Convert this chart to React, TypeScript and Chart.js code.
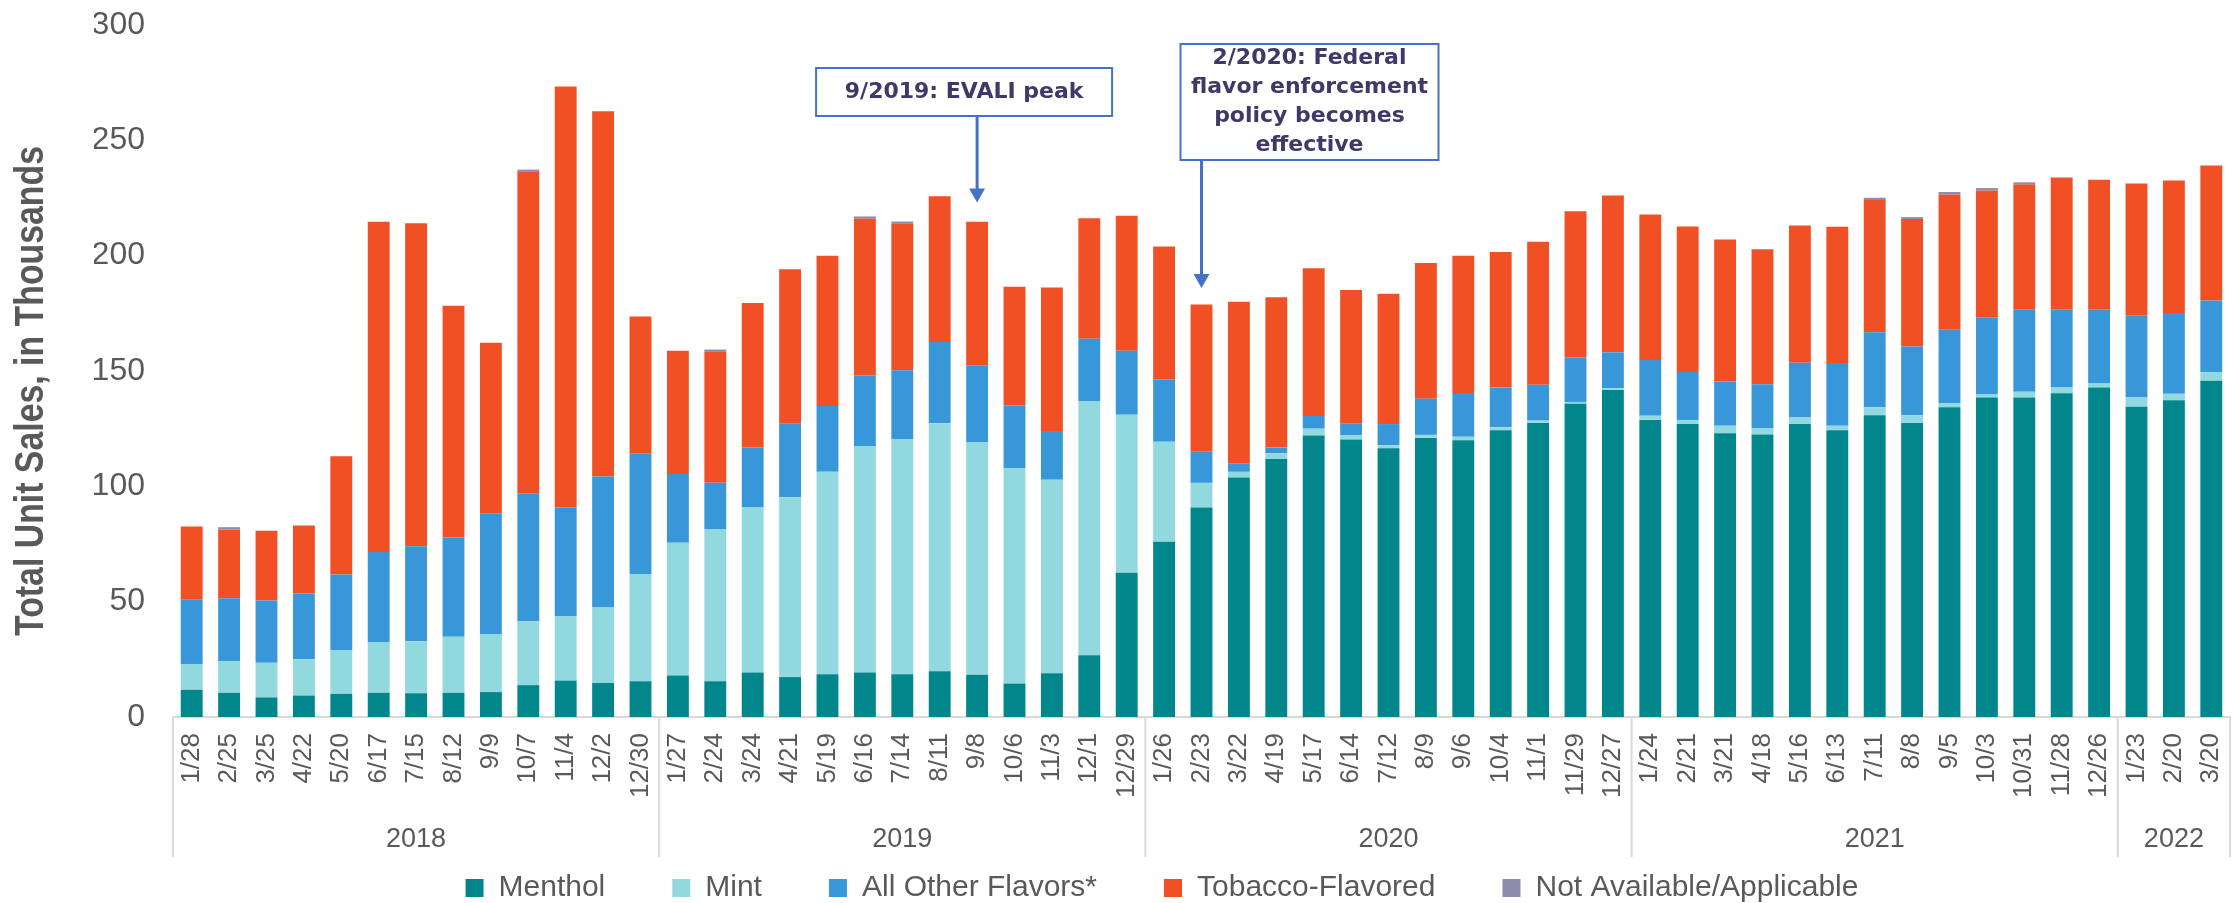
import React, { useEffect, useRef } from 'react';
import { Chart, registerables } from 'chart.js';

Chart.register(...registerables);

const dateLabels = [
  '1/28', '2/25', '3/25', '4/22', '5/20', '6/17', '7/15', '8/12', '9/9', '10/7', '11/4', '12/2', '12/30',
  '1/27', '2/24', '3/24', '4/21', '5/19', '6/16', '7/14', '8/11', '9/8', '10/6', '11/3', '12/1', '12/29',
  '1/26', '2/23', '3/22', '4/19', '5/17', '6/14', '7/12', '8/9', '9/6', '10/4', '11/1', '11/29', '12/27',
  '1/24', '2/21', '3/21', '4/18', '5/16', '6/13', '7/11', '8/8', '9/5', '10/3', '10/31', '11/28', '12/26',
  '1/23', '2/20', '3/20',
];
const yearLabels = ['2018', '2019', '2020', '2021', '2022'];
const yearCounts = [13, 13, 13, 13, 3];

const menthol = [
  11.8, 10.5, 8.5, 9.3, 10, 10.5, 10.3, 10.5, 10.8, 13.8, 15.8, 14.8, 15.5,
  18, 15.5, 19.3, 17.3, 18.5, 19.3, 18.5, 19.8, 18.3, 14.5, 19, 26.8, 62.5,
  76, 90.8, 103.8, 111.8, 122, 120.3, 116.5, 121, 120, 124.3, 127.5, 135.8, 141.8,
  128.8, 127, 123, 122.5, 127, 124.3, 130.8, 127.5, 134.3, 138.5, 138.5, 140.3, 142.8,
  134.5, 137.3, 145.8,
];
const mint = [
  11.2, 13.8, 15, 15.7, 19, 22, 22.5, 24.3, 25, 27.7, 28, 32.7, 46.3,
  57.5, 65.8, 71.5, 78, 87.8, 98.2, 102, 107.5, 100.7, 93.5, 83.8, 110.2, 68.5,
  43.3, 10.7, 2.5, 2.5, 3, 1.8, 1.3, 1.3, 1.5, 1.3, 1, 0.8, 0.8,
  1.8, 1.8, 3.3, 2.8, 2.8, 2, 3.5, 3.3, 1.8, 1.3, 2.5, 2.5, 1.8,
  4, 2.8, 3.8,
];
const otherFlavors = [
  27.8, 27.2, 27, 28.5, 32.8, 39, 41.2, 43, 52.5, 55.3, 47, 56.8, 52.5,
  29.8, 20.2, 26, 31.8, 28.5, 30.5, 29.8, 35.3, 33.5, 27, 21.2, 27, 27.8,
  27, 13.5, 3.7, 2.5, 5.5, 5, 9.2, 15.7, 19, 17.2, 15.5, 19.2, 15.5,
  24.2, 20.8, 19.2, 19, 23.8, 27.2, 32.5, 29.8, 31.8, 33.5, 35.5, 33.8, 32,
  35.5, 35, 31,
];
const tobacco = [
  31.8, 29.8, 30.2, 29.5, 51.2, 143.2, 140, 100.5, 74, 139.5, 182.5, 158.3, 59.3,
  53.5, 56.8, 62.7, 67, 65.2, 68, 63.5, 63.2, 62.2, 51.5, 62.2, 52.2, 58.5,
  57.7, 63.8, 70, 65.2, 64, 58, 56.5, 58.8, 59.5, 58.8, 62, 63.5, 68,
  63, 63, 61.5, 58.5, 59.5, 59, 57.3, 55.3, 58.5, 55, 54.3, 57.3, 56.3,
  57.3, 57.5, 58.5,
];
const notAvailable = [
  0, 1, 0, 0, 0, 0, 0, 0, 0, 1, 0, 0, 0,
  0, 1, 0, 0, 0, 1, 1, 0, 0, 0, 0, 0, 0,
  0, 0, 0, 0, 0, 0, 0, 0, 0, 0, 0, 0, 0,
  0, 0, 0, 0, 0, 0, 1, 0.8, 1.2, 1, 1, 0, 0,
  0, 0, 0,
];

const seriesNames = ['Menthol', 'Mint', 'All Other Flavors*', 'Tobacco-Flavored', 'Not Available/Applicable'];
const yTickValues = [0, 50, 100, 150, 200, 250, 300];
const yTitle = 'Total Unit Sales, in Thousands';

const annotationTexts = [
  ['9/2019: EVALI peak'],
  ['2/2020: Federal', 'flavor enforcement', 'policy becomes', 'effective'],
];
const annotationIndex = [21, 27];
const annotationTipValue = [223, 186];

const GRAY = '#595959';
const SEP = '#d9d9d9';
const BLUE = '#4472C4';
const NARROW = '"Liberation Sans Narrow", "Liberation Sans", Arial';

// box geometry in pixels (styling only): offset from arrow x, top y, size
const annoBoxes = [
  { dx: -161, w: 296, top: 68, h: 48 },
  { dx: -21, w: 258, top: 44, h: 116 },
];

const extrasPlugin = {
  id: 'extras',
  afterDraw(chart: any) {
    const ctx = chart.ctx;
    const xs = chart.scales.x;
    const ys = chart.scales.y;
    const area = chart.chartArea;
    ctx.save();

    // y title
    ctx.save();
    ctx.translate(32, 391);
    ctx.rotate(-Math.PI / 2);
    ctx.fillStyle = GRAY;
    ctx.font = 'bold 40px ' + NARROW;
    ctx.textAlign = 'center';
    ctx.textBaseline = 'middle';
    ctx.fillText(yTitle, 0, 0, 490);
    ctx.restore();

    // year groups
    const half = (xs.getPixelForValue(1) - xs.getPixelForValue(0)) / 2;
    const edges = [xs.getPixelForValue(0) - half];
    let count = 0;
    yearCounts.forEach((c) => {
      count += c;
      edges.push(xs.getPixelForValue(count - 1) + half);
    });
    const top = area.bottom;
    const bottom = top + 140;
    ctx.strokeStyle = SEP;
    ctx.lineWidth = 2;
    edges.forEach((e) => {
      ctx.beginPath();
      ctx.moveTo(e, top);
      ctx.lineTo(e, bottom);
      ctx.stroke();
    });
    ctx.fillStyle = GRAY;
    ctx.font = '27px "Liberation Sans", Arial';
    ctx.textAlign = 'center';
    ctx.textBaseline = 'middle';
    yearLabels.forEach((y, i) => {
      ctx.fillText(y, (edges[i] + edges[i + 1]) / 2, top + 123);
    });

    // annotations
    annotationTexts.forEach((lines, i) => {
      const px = xs.getPixelForValue(annotationIndex[i]);
      const tipY = ys.getPixelForValue(annotationTipValue[i]);
      const b = annoBoxes[i];
      const bx = px + b.dx;
      const by = b.top;
      ctx.fillStyle = '#ffffff';
      ctx.fillRect(bx, by, b.w, b.h);
      ctx.strokeStyle = BLUE;
      ctx.lineWidth = 2;
      ctx.strokeRect(bx, by, b.w, b.h);
      // arrow
      ctx.lineWidth = 3;
      ctx.beginPath();
      ctx.moveTo(px, by + b.h);
      ctx.lineTo(px, tipY - 12);
      ctx.stroke();
      ctx.fillStyle = BLUE;
      ctx.beginPath();
      ctx.moveTo(px - 8, tipY - 14);
      ctx.lineTo(px + 8, tipY - 14);
      ctx.lineTo(px, tipY);
      ctx.closePath();
      ctx.fill();
      // text
      ctx.fillStyle = '#3F3868';
      ctx.font = 'bold 22px "DejaVu Sans"';
      ctx.textAlign = 'center';
      ctx.textBaseline = 'middle';
      const lh = 29;
      const cy = by + b.h / 2;
      const startY = cy - ((lines.length - 1) * lh) / 2;
      lines.forEach((t, j) => ctx.fillText(t, bx + b.w / 2, startY + j * lh));
    });
    ctx.restore();
  },
};

export default function App() {
  const ref = useRef<HTMLCanvasElement | null>(null);
  useEffect(() => {
    document.body.style.margin = '0';
    document.body.style.overflow = 'hidden';
    const colors = ['#01868C', '#91D9DF', '#3797D9', '#F05024', '#8F8BAB'];
    const values = [menthol, mint, otherFlavors, tobacco, notAvailable];
    const chart = new Chart(ref.current as HTMLCanvasElement, {
      type: 'bar',
      data: {
        labels: dateLabels,
        datasets: values.map((v, i) => ({
          label: seriesNames[i],
          data: v,
          backgroundColor: colors[i],
          borderWidth: 0,
          categoryPercentage: 1,
          barPercentage: 0.585,
        })),
      },
      options: {
        animation: false,
        responsive: false,
        layout: { padding: { left: 94, right: 4, top: 25, bottom: -10 } },
        plugins: {
          legend: {
            position: 'bottom',
            labels: {
              font: { family: '"Liberation Sans", Arial', size: 30 },
              color: GRAY,
              boxWidth: 18,
              boxHeight: 18,
              padding: 67,
            },
          },
          tooltip: { enabled: false },
        },
        scales: {
          x: {
            stacked: true,
            grid: { display: false, drawTicks: false },
            border: { display: true, color: SEP, width: 2 },
            ticks: {
              minRotation: 90,
              maxRotation: 90,
              autoSkip: false,
              padding: 16,
              color: GRAY,
              font: { family: '"Liberation Sans", Arial', size: 26 },
            },
            afterFit: (s: any) => {
              s.height = 89;
              s.paddingLeft = 0;
              s.paddingRight = 0;
            },
          },
          y: {
            stacked: true,
            min: 0,
            max: 300,
            afterBuildTicks: (s: any) => {
              s.ticks = yTickValues.map((v) => ({ value: v }));
            },
            grid: { display: false, drawTicks: false },
            border: { display: false },
            ticks: {
              padding: 28,
              color: GRAY,
              font: { family: NARROW, size: 32 },
            },
            afterFit: (s: any) => {
              s.width = 79;
              s.paddingTop = 0;
              s.paddingBottom = 0;
            },
          },
        },
      },
      plugins: [extrasPlugin],
    });
    return () => chart.destroy();
  }, []);
  return <canvas ref={ref} width={2234} height={903} style={{ display: 'block' }} />;
}
